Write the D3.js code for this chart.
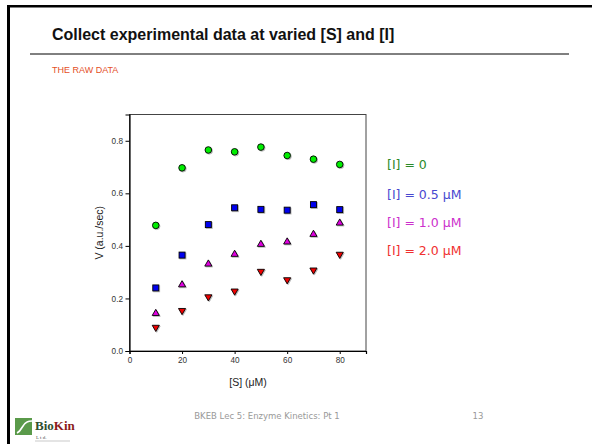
<!DOCTYPE html>
<html>
<head>
<meta charset="utf-8">
<script src="https://cdn.jsdelivr.net/npm/d3@7"></script>
<style>
  body { margin: 0; background: #fff; }
  svg { display: block; }
</style>
</head>
<body>
<svg id="chart" width="592" height="444"></svg>
<script>
// data
const substrate = [10, 20, 30, 40, 50, 60, 70, 80];
const vNoInhib = [0.478, 0.697, 0.765, 0.758, 0.776, 0.744, 0.730, 0.710];
const vInhib05 = [0.240, 0.365, 0.481, 0.545, 0.539, 0.536, 0.557, 0.538];
const vInhib10 = [0.143, 0.252, 0.331, 0.368, 0.406, 0.415, 0.444, 0.487];
const vInhib20 = [0.090, 0.154, 0.206, 0.228, 0.303, 0.271, 0.308, 0.368];
const seriesNames = ["[I] = 0", "[I] = 0.5 \u03bcM", "[I] = 1.0 \u03bcM", "[I] = 2.0 \u03bcM"];
const xTicks = [0, 20, 40, 60, 80];
const yTicks = [0.0, 0.2, 0.4, 0.6, 0.8];

const svg = d3.select("#chart");

// slide frame
svg.append("rect").attr("x", 7).attr("y", 5).attr("width", 3).attr("height", 439).attr("fill", "#000");
svg.append("rect").attr("x", 7).attr("y", 5).attr("width", 585).attr("height", 2.5).attr("fill", "#000");

svg.append("text")
  .attr("x", 52).attr("y", 40)
  .attr("font-family", "Arial, 'Liberation Sans', sans-serif")
  .attr("font-size", 16).attr("font-weight", "bold")
  .attr("fill", "#111")
  .text("Collect experimental data at varied [S] and [I]");

svg.append("line")
  .attr("x1", 30).attr("x2", 569).attr("y1", 54).attr("y2", 54)
  .attr("stroke", "#000").attr("stroke-width", 1);

svg.append("text")
  .attr("x", 52).attr("y", 73)
  .attr("font-family", "Arial, 'Liberation Sans', sans-serif")
  .attr("font-size", 9)
  .attr("fill", "#e4501f")
  .text("THE RAW DATA");

// plot area
const plotL = 129.5, plotR = 366, plotT = 114.5, plotB = 351;
const xScale = d3.scaleLinear().domain([0, 90]).range([plotL, plotR]);
const yScale = d3.scaleLinear().domain([0, 0.9]).range([plotB, plotT]);

svg.append("rect")
  .attr("x", plotL).attr("y", plotT)
  .attr("width", plotR - plotL).attr("height", plotB - plotT)
  .attr("fill", "none").attr("stroke", "#444").attr("stroke-width", 1);

const xAxis = d3.axisBottom(xScale).tickValues(xTicks).tickSize(3).tickPadding(3).tickFormat(d3.format("d"));
const gx = svg.append("g").attr("transform", `translate(0,${plotB})`).call(xAxis);

const yAxis = d3.axisLeft(yScale).tickValues(yTicks).tickSize(4).tickPadding(2.5).tickFormat(d3.format(".1f"));
const gy = svg.append("g").attr("transform", `translate(${plotL},0)`).call(yAxis);

[gx, gy].forEach(g => {
  g.select(".domain").attr("stroke", "#000").attr("stroke-width", 1.2);
  g.selectAll(".tick line").attr("stroke", "#000");
  g.selectAll("text")
    .attr("font-family", "Arial, 'Liberation Sans', sans-serif")
    .attr("font-size", 8.2).attr("fill", "#333");
});

svg.append("text")
  .attr("transform", `translate(103,${(plotT + plotB) / 2}) rotate(-90)`)
  .attr("text-anchor", "middle")
  .attr("font-family", "Arial, 'Liberation Sans', sans-serif")
  .attr("font-size", 10.5).attr("fill", "#222")
  .text("V (a.u./sec)");

svg.append("text")
  .attr("x", 248).attr("y", 386)
  .attr("text-anchor", "middle")
  .attr("font-family", "Arial, 'Liberation Sans', sans-serif")
  .attr("font-size", 10.5).attr("fill", "#222")
  .text("[S] (\u03bcM)");

// markers (with faint grey drop shadow like the source plot)
const toPoints = vals => substrate.map((s, i) => ({ s: s, v: vals[i] }));
const tri = d3.symbol().type(d3.symbolTriangle).size(22);
const sh = 0.9;

function drawSeries(vals, kind, fill) {
  const g = svg.append("g");
  [true, false].forEach(shadow => {
    const off = shadow ? sh : 0;
    let sel;
    if (kind === "circle") {
      sel = g.selectAll(null).data(toPoints(vals)).enter().append("circle")
        .attr("cx", d => xScale(d.s) + off).attr("cy", d => yScale(d.v) + off)
        .attr("r", 3.3);
    } else if (kind === "square") {
      sel = g.selectAll(null).data(toPoints(vals)).enter().append("rect")
        .attr("x", d => xScale(d.s) - 3 + off).attr("y", d => yScale(d.v) - 3 + off)
        .attr("width", 6).attr("height", 6);
    } else {
      const rot = kind === "down" ? 180 : 0;
      sel = g.selectAll(null).data(toPoints(vals)).enter().append("path")
        .attr("d", tri)
        .attr("transform", d => `translate(${xScale(d.s) + off},${yScale(d.v) + off}) rotate(${rot})`);
    }
    if (shadow) sel.attr("fill", "#bbb").attr("stroke", "#bbb").attr("stroke-width", 0.9);
    else sel.attr("fill", fill).attr("stroke", "#000").attr("stroke-width", 0.9);
  });
}

drawSeries(vNoInhib, "circle", "#00ee00");
drawSeries(vInhib05, "square", "#0000ee");
drawSeries(vInhib10, "up", "#e000e0");
drawSeries(vInhib20, "down", "#ee0000");

// legend
const legendColors = ["#2a8a2a", "#4848d0", "#cc30cc", "#f03030"];
const legendY = [169, 199, 227, 255];
svg.append("g").selectAll("text")
  .data(seriesNames).enter()
  .append("text")
  .attr("x", 387).attr("y", (d, i) => legendY[i])
  .attr("font-family", "'DejaVu Sans', Verdana, sans-serif")
  .attr("font-size", 12.5)
  .attr("fill", (d, i) => legendColors[i])
  .text(d => d);

// footer
svg.append("text")
  .attr("x", 267).attr("y", 419)
  .attr("text-anchor", "middle")
  .attr("font-family", "'DejaVu Sans', Verdana, sans-serif")
  .attr("font-size", 8.5).attr("fill", "#999")
  .text("BKEB Lec 5: Enzyme Kinetics: Pt 1");

svg.append("text")
  .attr("x", 478).attr("y", 419)
  .attr("text-anchor", "middle")
  .attr("font-family", "'DejaVu Sans', Verdana, sans-serif")
  .attr("font-size", 8.5).attr("fill", "#999")
  .text("13");

// BioKin logo
const logo = svg.append("g");
logo.append("rect").attr("x", 15).attr("y", 418).attr("width", 17).attr("height", 17).attr("fill", "#5a9a4a");
logo.append("path")
  .attr("d", "M17,433 C22,431 22,424 27,422 C29,421 31,421 32,421")
  .attr("fill", "none").attr("stroke", "#fff").attr("stroke-width", 1.6);
const bk = logo.append("text")
  .attr("x", 35).attr("y", 430)
  .attr("font-family", "'Liberation Serif', 'DejaVu Serif', serif")
  .attr("font-size", 13).attr("font-weight", "bold");
bk.append("tspan").attr("fill", "#2f4f2f").text("Bio");
bk.append("tspan").attr("fill", "#8b1a1a").text("Kin");
logo.append("text")
  .attr("x", 36).attr("y", 439)
  .attr("font-family", "'Liberation Serif', serif")
  .attr("font-size", 5).attr("fill", "#555")
  .text("L t d.");
logo.append("line")
  .attr("x1", 35).attr("x2", 70).attr("y1", 441).attr("y2", 441)
  .attr("stroke", "#bbb").attr("stroke-width", 0.8);
</script>
</body>
</html>
